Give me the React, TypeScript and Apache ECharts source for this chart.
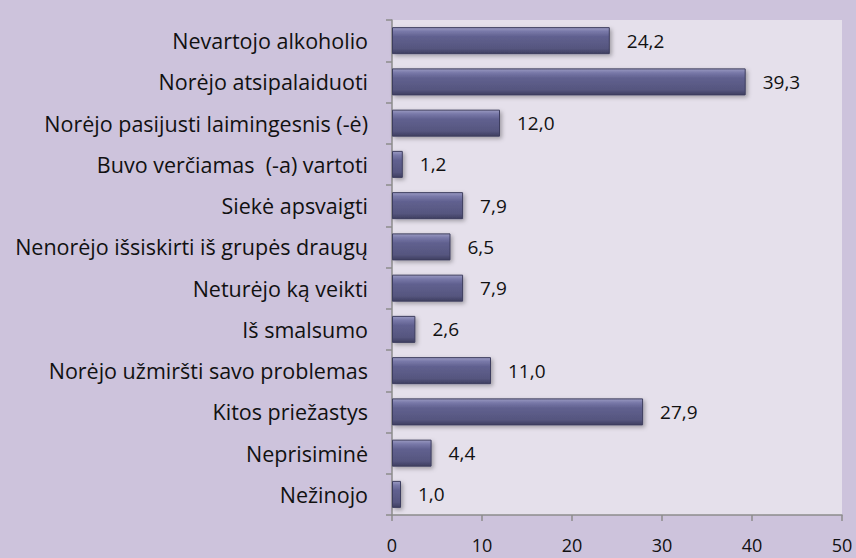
import React, { useEffect, useRef } from "react";
import * as echarts from "echarts";

const categories = [
  "Nevartojo alkoholio",
  "Norėjo atsipalaiduoti",
  "Norėjo pasijusti laimingesnis (-ė)",
  "Buvo verčiamas  (-a) vartoti",
  "Siekė apsvaigti",
  "Nenorėjo išsiskirti iš grupės draugų",
  "Neturėjo ką veikti",
  "Iš smalsumo",
  "Norėjo užmiršti savo problemas",
  "Kitos priežastys",
  "Neprisiminė",
  "Nežinojo",
];
const values = [24.2, 39.3, 12.0, 1.2, 7.9, 6.5, 7.9, 2.6, 11.0, 27.9, 4.4, 1.0];
const xTicks = [0, 10, 20, 30, 40, 50];

export default function App() {
  const ref = useRef<HTMLDivElement>(null);
  useEffect(() => {
    document.body.style.margin = "0";
    const chart = echarts.init(ref.current!, null, { renderer: "svg" });
    const font = "'Open Sans', sans-serif";
    chart.setOption({
      animation: false,
      backgroundColor: "#CDC3DC",
      grid: {
        left: 392,
        right: 14,
        top: 20,
        bottom: 43,
        show: true,
        backgroundColor: "#E5E0EB",
        borderWidth: 0,
      },
      xAxis: {
        type: "value",
        min: xTicks[0],
        max: xTicks[xTicks.length - 1],
        interval: 10,
        axisLine: { show: true, lineStyle: { color: "#8C8C8C", width: 1.5 } },
        axisTick: { show: true, length: 6, lineStyle: { color: "#8C8C8C", width: 1.5 } },
        splitLine: { show: false },
        axisLabel: { color: "#111", fontSize: 18, fontFamily: font, margin: 21 },
      },
      yAxis: {
        type: "category",
        data: categories,
        inverse: true,
        axisLine: { show: true, lineStyle: { color: "#8C8C8C", width: 1.5 } },
        axisTick: { show: true, length: 6, lineStyle: { color: "#8C8C8C", width: 1.5 } },
        axisLabel: { color: "#111", fontSize: 21.5, fontFamily: font, margin: 24 },
      },
      series: [
        {
          type: "bar",
          data: values,
          barWidth: 27,
          itemStyle: {
            color: new echarts.graphic.LinearGradient(0, 0, 0, 1, [
              { offset: 0, color: "#9A9AC2" },
              { offset: 0.15, color: "#7878A8" },
              { offset: 0.35, color: "#60608F" },
              { offset: 0.8, color: "#56567F" },
              { offset: 1, color: "#3E3E60" },
            ]),
            borderColor: "#3E3E5E",
            borderWidth: 1,
            shadowColor: "rgba(0,0,0,0.3)",
            shadowBlur: 4,
            shadowOffsetX: 2,
            shadowOffsetY: 2,
          },
          label: {
            show: true,
            position: "right",
            distance: 17,
            color: "#111",
            fontSize: 19,
            fontFamily: font,
            formatter: (p: any) => Number(p.value).toFixed(1).replace(".", ","),
          },
        },
      ],
    });
    return () => chart.dispose();
  }, []);
  return <div ref={ref} style={{ width: 856, height: 558 }} />;
}
